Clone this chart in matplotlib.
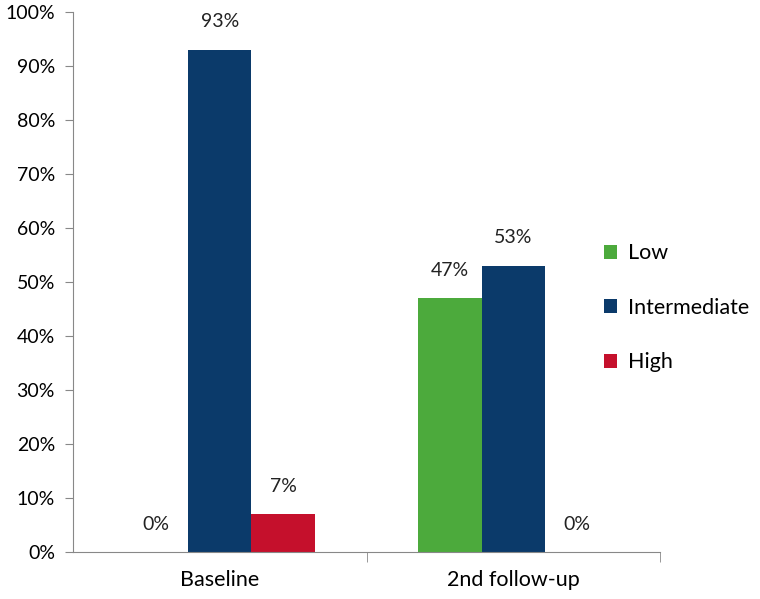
import numpy as np
import matplotlib.pyplot as plt
from matplotlib.ticker import FuncFormatter

categories = ["Baseline", "2nd follow-up"]
series = ["Low", "Intermediate", "High"]
low = [0, 47]
intermediate = [93, 53]
high = [7, 0]
colors = ["#4CAA3C", "#0B3A6A", "#C5102C"]

plt.rcParams['font.family'] = ['Lato', 'DejaVu Sans']

fig = plt.figure(figsize=(7.6, 5.99), dpi=100)
ax = fig.add_axes([73/760, 1 - 552/599, (660-73)/760, (552-12)/599])

x = np.arange(len(categories))
w = 0.216
for i, (name, vals) in enumerate(zip(series, [low, intermediate, high])):
    pos = x + (i - 1) * w
    ax.bar(pos, vals, w, color=colors[i], label=name, edgecolor="none")
    for p, v in zip(pos, vals):
        ax.annotate(f"{v}%", (p, v), xytext=(0, 14), textcoords="offset points",
                    ha="center", va="bottom", fontsize=14, color="#222222")

ax.set_xlim(-0.5, 1.5)
ax.set_ylim(0, 100)
ax.set_yticks(np.arange(0, 101, 10))
ax.yaxis.set_major_formatter(FuncFormatter(lambda v, p: f"{int(v)}%"))
ax.set_xticks(x)
ax.set_xticklabels(categories)
ax.set_xticks([0.5, 1.5], minor=True)
ax.tick_params(axis="x", which="major", length=0, pad=13, labelsize=15.5)
ax.tick_params(axis="x", which="minor", length=7, color="#888888")
ax.tick_params(axis="y", length=6, color="#888888", labelsize=14, pad=7)

for s in ["top", "right"]:
    ax.spines[s].set_visible(False)
for s in ["left", "bottom"]:
    ax.spines[s].set_color("#888888")

fig.legend(loc="upper left", bbox_to_anchor=(585/760, 1 - 224/599), frameon=False,
           fontsize=15.5, handlelength=0.6, handleheight=0.6, handletextpad=0.5,
           labelspacing=1.6)

fig.savefig("out.png", dpi=100)
